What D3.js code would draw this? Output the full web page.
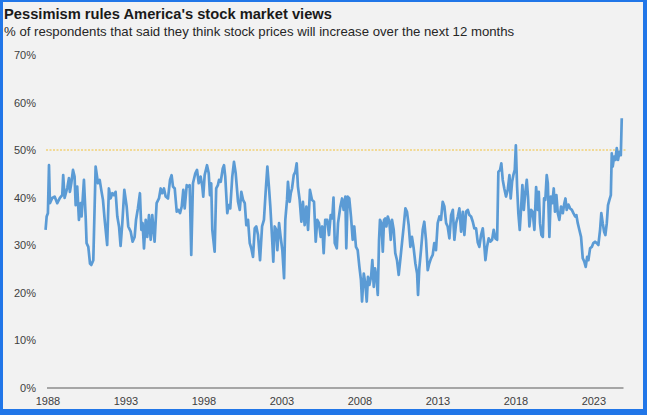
<!DOCTYPE html>
<html>
<head>
<meta charset="utf-8">
<script src="https://cdn.jsdelivr.net/npm/d3@7"></script>
<style>
  html, body { margin: 0; padding: 0; background: #2176e8; }
  svg { display: block; }
  .chart-text { font-family: "Liberation Sans", Arial, sans-serif; }
</style>
</head>
<body>
<div id="chart"></div>
<script>
// survey date (decimal year) and share of respondents expecting stock prices to rise (%)
const years = [
  1987.88, 1987.95, 1988.03, 1988.10, 1988.16, 1988.31, 1988.46, 1988.63, 1988.80, 1988.95,
  1989.01, 1989.10, 1989.27, 1989.38, 1989.44, 1989.53, 1989.64, 1989.74, 1989.81, 1989.91,
  1990.02, 1990.13, 1990.19, 1990.34, 1990.45, 1990.51, 1990.62, 1990.73, 1990.81, 1990.94,
  1991.09, 1991.24, 1991.35, 1991.45, 1991.56, 1991.67, 1991.83, 1991.94, 1992.05, 1992.16,
  1992.26, 1992.37, 1992.48, 1992.59, 1992.69, 1992.80, 1992.93, 1993.08, 1993.18, 1993.34,
  1993.46, 1993.59, 1993.68, 1993.80, 1993.93, 1994.02, 1994.10, 1994.19, 1994.30, 1994.40,
  1994.51, 1994.62, 1994.72, 1994.87, 1995.00, 1995.15, 1995.26, 1995.36, 1995.47, 1995.58,
  1995.73, 1995.86, 1995.96, 1996.05, 1996.16, 1996.29, 1996.39, 1996.50, 1996.61, 1996.71,
  1996.80, 1996.93, 1997.03, 1997.12, 1997.22, 1997.33, 1997.48, 1997.59, 1997.70, 1997.82,
  1997.93, 1997.99, 1998.08, 1998.23, 1998.34, 1998.42, 1998.50, 1998.57, 1998.72, 1998.82,
  1998.93, 1999.00, 1999.11, 1999.24, 1999.32, 1999.40, 1999.53, 1999.62, 1999.72, 1999.85,
  1999.96, 2000.07, 2000.22, 2000.33, 2000.43, 2000.54, 2000.65, 2000.75, 2000.86, 2000.97,
  2001.07, 2001.18, 2001.29, 2001.39, 2001.50, 2001.63, 2001.76, 2001.88, 2001.99, 2002.10,
  2002.20, 2002.29, 2002.40, 2002.48, 2002.57, 2002.67, 2002.74, 2002.85, 2002.95, 2003.06,
  2003.17, 2003.25, 2003.36, 2003.42, 2003.53, 2003.60, 2003.68, 2003.79, 2003.89, 2003.98,
  2004.06, 2004.17, 2004.28, 2004.38, 2004.49, 2004.60, 2004.71, 2004.83, 2004.96, 2005.09,
  2005.20, 2005.30, 2005.41, 2005.52, 2005.62, 2005.71, 2005.81, 2005.94, 2006.05, 2006.16,
  2006.26, 2006.34, 2006.42, 2006.55, 2006.63, 2006.78, 2006.89, 2006.99, 2007.10, 2007.16,
  2007.25, 2007.35, 2007.46, 2007.57, 2007.67, 2007.78, 2007.89, 2008.00, 2008.10, 2008.17,
  2008.28, 2008.38, 2008.47, 2008.55, 2008.64, 2008.75, 2008.83, 2008.92, 2009.00, 2009.09,
  2009.18, 2009.26, 2009.32, 2009.41, 2009.50, 2009.58, 2009.66, 2009.73, 2009.82, 2009.92,
  2010.01, 2010.09, 2010.20, 2010.30, 2010.41, 2010.52, 2010.62, 2010.73, 2010.84, 2010.95,
  2011.05, 2011.16, 2011.27, 2011.37, 2011.48, 2011.59, 2011.70, 2011.76, 2011.84, 2011.95,
  2012.06, 2012.16, 2012.27, 2012.38, 2012.48, 2012.59, 2012.70, 2012.80, 2012.91, 2013.02,
  2013.13, 2013.23, 2013.34, 2013.45, 2013.56, 2013.66, 2013.77, 2013.88, 2013.99, 2014.09,
  2014.20, 2014.31, 2014.41, 2014.52, 2014.63, 2014.73, 2014.84, 2014.95, 2015.05, 2015.16,
  2015.27, 2015.37, 2015.48, 2015.59, 2015.69, 2015.80, 2015.91, 2015.99, 2016.08, 2016.18,
  2016.29, 2016.40, 2016.51, 2016.61, 2016.72, 2016.83, 2016.91, 2017.02, 2017.10, 2017.19,
  2017.29, 2017.40, 2017.51, 2017.62, 2017.70, 2017.79, 2017.87, 2017.96, 2018.03, 2018.11,
  2018.19, 2018.28, 2018.36, 2018.45, 2018.54, 2018.62, 2018.73, 2018.81, 2018.90, 2019.01,
  2019.11, 2019.22, 2019.33, 2019.44, 2019.50, 2019.58, 2019.67, 2019.76, 2019.84, 2019.92,
  2020.01, 2020.08, 2020.18, 2020.27, 2020.37, 2020.46, 2020.54, 2020.63, 2020.72, 2020.82,
  2020.93, 2021.04, 2021.14, 2021.21, 2021.29, 2021.40, 2021.51, 2021.62, 2021.72, 2021.83,
  2021.91, 2022.00, 2022.10, 2022.21, 2022.32, 2022.42, 2022.51, 2022.60, 2022.68, 2022.79,
  2022.90, 2023.00, 2023.11, 2023.22, 2023.32, 2023.43, 2023.51, 2023.60, 2023.69, 2023.77,
  2023.86, 2023.94, 2024.03, 2024.12, 2024.18, 2024.24, 2024.33, 2024.41, 2024.50, 2024.58,
  2024.67, 2024.76, 2024.82
];

const pctUp = [
  33.2, 36.0, 36.7, 46.8, 38.8, 39.9, 40.2, 38.8, 39.9, 40.5,
  44.7, 39.9, 42.0, 44.1, 41.2, 43.0, 45.8, 44.4, 38.4, 42.3,
  35.3, 38.8, 36.0, 43.7, 36.0, 30.4, 29.6, 26.1, 25.8, 26.8,
  46.5, 43.0, 43.7, 41.6, 39.5, 35.3, 30.0, 41.9, 39.8, 40.9,
  40.5, 41.2, 36.0, 33.9, 29.8, 34.6, 41.6, 38.1, 33.9, 32.8,
  30.7, 31.7, 35.3, 37.7, 40.9, 33.2, 34.6, 29.3, 35.3, 31.7,
  36.3, 31.1, 36.3, 30.7, 38.8, 39.8, 41.9, 40.9, 41.9, 40.2,
  39.8, 43.7, 44.7, 42.3, 41.9, 37.0, 37.4, 36.7, 38.1, 41.6,
  37.7, 42.6, 42.3, 42.6, 27.9, 43.0, 45.1, 45.8, 43.0, 44.4,
  42.3, 40.2, 44.7, 46.8, 45.1, 40.5, 43.0, 33.2, 28.6, 41.9,
  42.6, 43.7, 43.3, 46.1, 46.8, 44.4, 36.7, 38.4, 37.7, 44.4,
  47.5, 45.1, 39.1, 37.4, 41.2, 39.5, 38.8, 34.2, 35.3, 30.4,
  29.3, 27.5, 33.5, 33.9, 32.1, 26.8, 33.9, 35.3, 41.2, 46.5,
  42.3, 38.1, 31.7, 26.5, 33.9, 33.2, 28.9, 34.6, 31.7, 28.9,
  23.0, 35.3, 39.5, 43.3, 39.1, 40.9, 41.9, 44.7, 45.4, 47.2,
  42.3, 39.5, 34.9, 39.1, 34.2, 38.1, 33.2, 41.6, 39.5, 39.1,
  30.7, 35.3, 34.6, 31.7, 33.9, 28.3, 35.3, 35.3, 32.1, 36.3,
  35.6, 40.0, 30.4, 29.3, 34.6, 38.1, 39.8, 37.4, 40.2, 29.3,
  40.2, 39.8, 36.0, 31.1, 33.9, 29.6, 28.9, 25.4, 22.6, 18.1,
  24.0, 21.9, 18.1, 23.3, 21.6, 23.3, 26.8, 21.2, 25.1, 23.3,
  19.5, 31.1, 35.3, 34.6, 28.6, 35.3, 35.6, 33.9, 36.0, 34.9,
  31.1, 35.3, 33.2, 28.3, 26.8, 23.7, 26.8, 30.4, 33.9, 37.7,
  37.0, 34.2, 29.6, 31.7, 29.3, 26.1, 24.0, 19.5, 25.1, 28.9,
  33.2, 34.9, 31.1, 24.7, 26.1, 27.2, 27.9, 30.4, 28.9, 34.6,
  36.0, 35.3, 39.1, 38.1, 34.6, 33.9, 31.4, 36.3, 37.4, 31.1,
  34.6, 36.0, 37.7, 32.8, 37.0, 32.1, 37.0, 37.4, 36.3, 36.0,
  34.9, 33.5, 33.5, 30.5, 29.6, 32.1, 33.5, 30.7, 26.8, 29.6,
  31.4, 30.7, 31.1, 33.2, 31.4, 31.1, 45.4, 45.8, 47.2, 43.7,
  41.9, 40.2, 41.6, 44.7, 39.8, 43.3, 44.7, 45.8, 51.0, 42.3,
  36.7, 33.2, 37.4, 42.6, 37.4, 40.5, 43.7, 40.2, 33.9, 37.4,
  37.0, 33.2, 42.2, 37.4, 41.2, 34.6, 32.1, 31.7, 39.8, 39.5,
  44.7, 43.0, 31.7, 40.2, 38.8, 41.9, 37.0, 40.5, 36.7, 35.3,
  38.1, 36.7, 38.8, 39.8, 37.4, 38.5, 37.7, 37.4, 36.7, 36.0,
  36.3, 34.6, 33.2, 31.7, 27.2, 26.5, 25.4, 27.5, 26.8, 29.3,
  29.6, 30.4, 30.7, 30.4, 30.0, 33.2, 36.7, 34.6, 32.8, 32.1,
  34.6, 38.4, 39.5, 40.5, 49.3, 46.5, 48.6, 47.9, 50.4, 47.9,
  49.6, 48.9, 56.7
];

const xTicks = [1988, 1993, 1998, 2003, 2008, 2013, 2018, 2023];
const yTicks = [0, 10, 20, 30, 40, 50, 60, 70];
const refLevel = 50;

const title = "Pessimism rules America's stock market views";
const subtitle = "% of respondents that said they think stock prices will increase over the next 12 months";

const data = years.map((t, i) => ({ t: t, v: pctUp[i] }));

const W = 647, H = 415;
const margin = { top: 55, right: 24, bottom: 27.5, left: 46.5 };
const width = W - margin.left - margin.right;
const height = H - margin.top - margin.bottom;

const svg = d3.select("#chart")
    .append("svg")
    .attr("width", W)
    .attr("height", H);

// light grey panel inside the blue frame
svg.append("rect")
    .attr("x", 3)
    .attr("y", 2)
    .attr("width", 640)
    .attr("height", 407)
    .attr("fill", "#f2f2f2");

const xScale = d3.scaleLinear().domain([1987.94, 2024.9]).range([0, width]);
const yScale = d3.scaleLinear().domain([0, 70]).range([height, 0]);

const g = svg.append("g")
    .attr("transform", `translate(${margin.left}, ${margin.top})`);

const yAxis = d3.axisLeft(yScale)
    .tickValues(yTicks)
    .tickSize(0)
    .tickPadding(10.5)
    .tickFormat(d => d + "%");

g.append("g")
    .attr("class", "y-axis chart-text")
    .call(yAxis)
    .call(s => s.select(".domain").remove())
    .selectAll("text")
    .attr("font-size", 11)
    .attr("font-family", "Liberation Sans, Arial, sans-serif")
    .attr("fill", "#404040");

const xAxis = d3.axisBottom(xScale)
    .tickValues(xTicks)
    .tickSize(0)
    .tickSizeOuter(0)
    .tickPadding(10)
    .tickFormat(d3.format("d"));

g.append("g")
    .attr("class", "x-axis chart-text")
    .attr("transform", `translate(0, ${height})`)
    .call(xAxis)
    .call(s => s.select(".domain").attr("stroke", "#8c8c8c").attr("stroke-width", 1.5))
    .selectAll("text")
    .attr("font-size", 11)
    .attr("font-family", "Liberation Sans, Arial, sans-serif")
    .attr("fill", "#404040");

// 50% reference line
g.append("line")
    .attr("x1", -0.5)
    .attr("x2", width + 3)
    .attr("y1", yScale(refLevel))
    .attr("y2", yScale(refLevel))
    .attr("stroke", "#f2c037")
    .attr("stroke-width", 1)
    .attr("stroke-dasharray", "2,1.5");

const line = d3.line()
    .x(d => xScale(d.t))
    .y(d => yScale(d.v));

g.append("path")
    .datum(data)
    .attr("fill", "none")
    .attr("stroke", "#5b9bd5")
    .attr("stroke-width", 2.7)
    .attr("stroke-linejoin", "round")
    .attr("d", line);

svg.append("text")
    .attr("class", "chart-text")
    .attr("x", 4)
    .attr("y", 19)
    .attr("font-size", 14.7)
    .attr("font-weight", "bold")
    .attr("fill", "#1a1a1a")
    .text(title);

svg.append("text")
    .attr("class", "chart-text")
    .attr("x", 4)
    .attr("y", 36)
    .attr("font-size", 13.2)
    .attr("fill", "#262626")
    .text(subtitle);
</script>
</body>
</html>
